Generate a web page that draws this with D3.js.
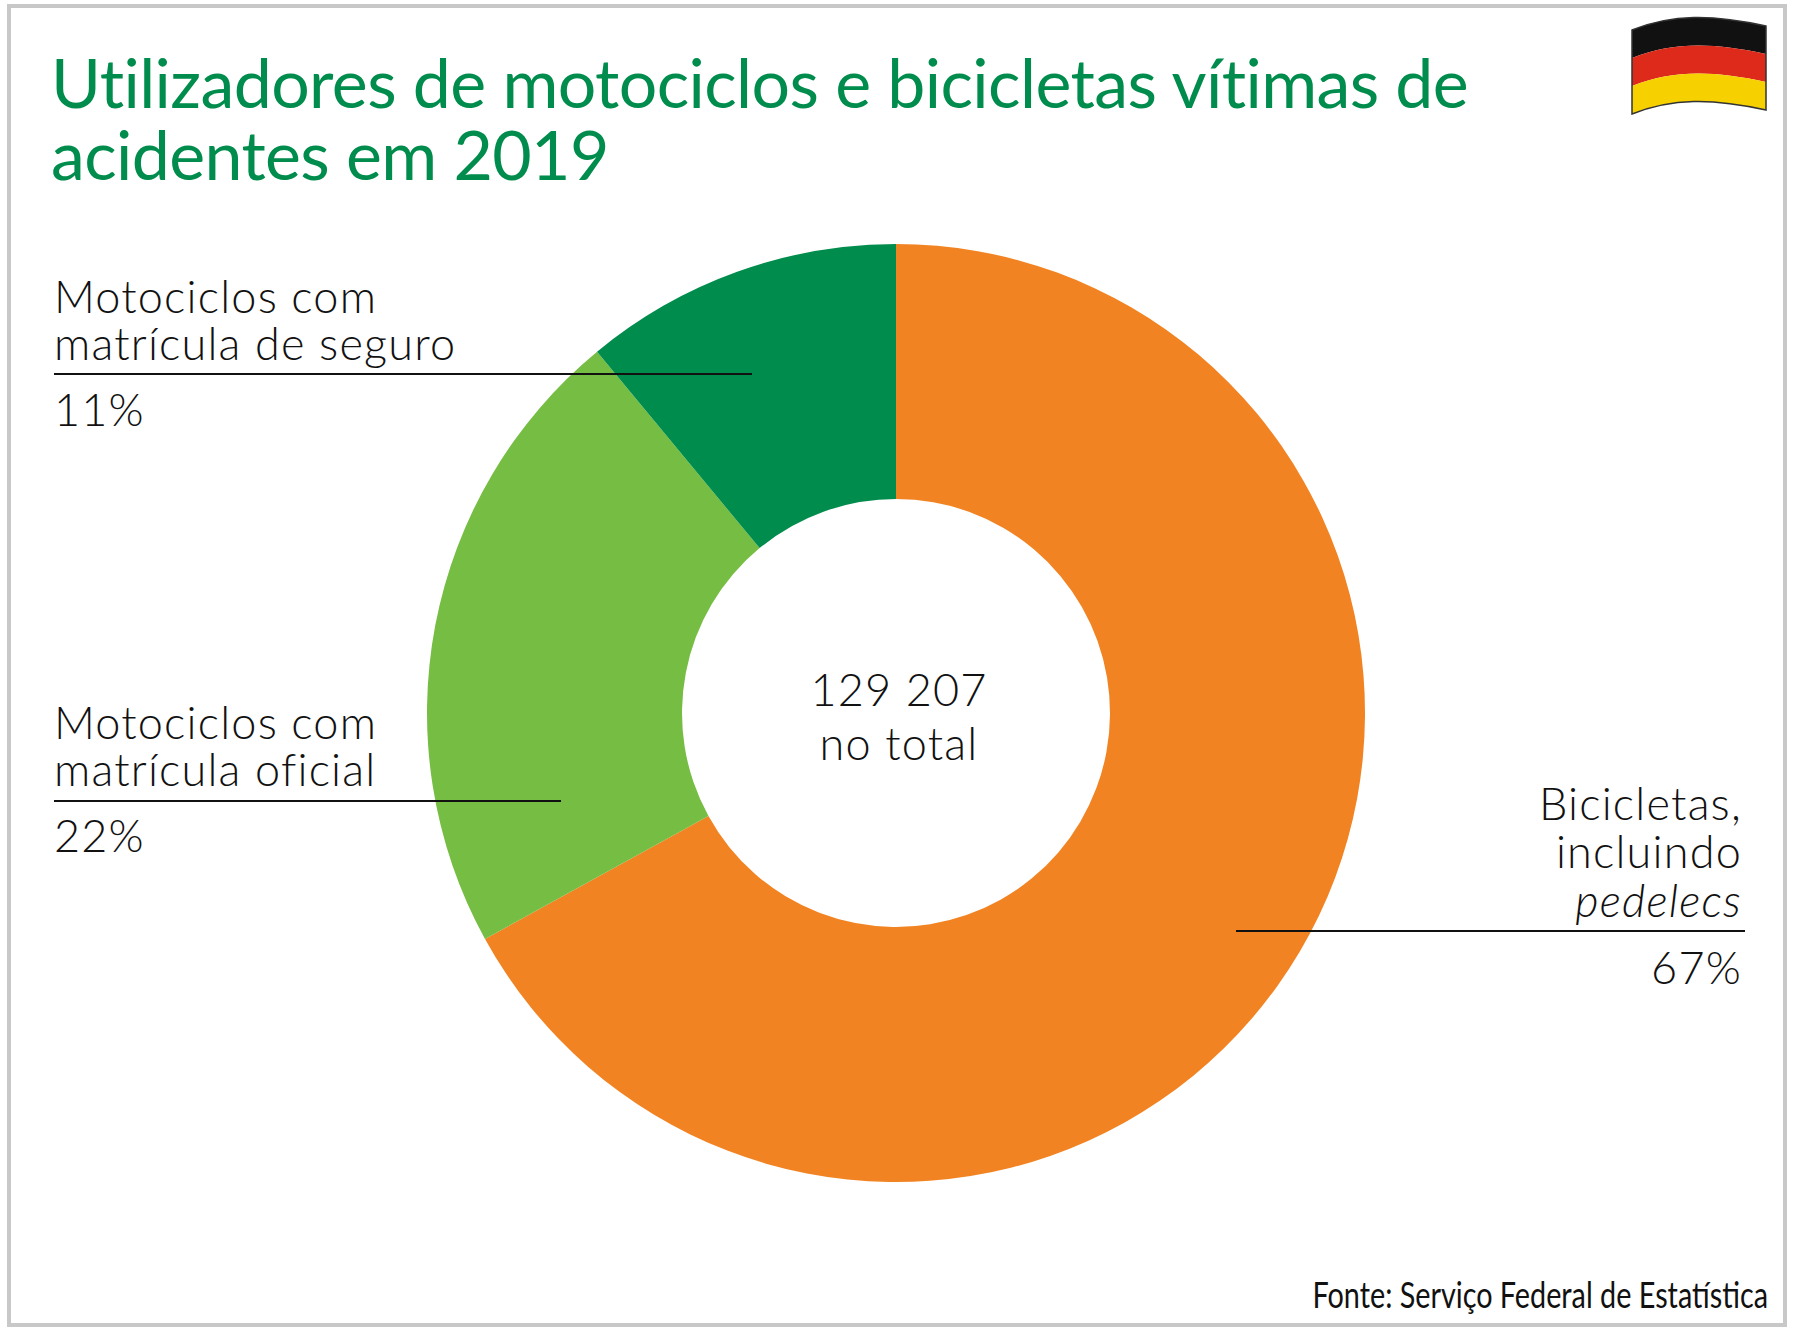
<!DOCTYPE html>
<html><head><meta charset="utf-8">
<script src="https://cdn.jsdelivr.net/npm/d3@7"></script>
<style>body{margin:0;background:#fff}</style></head>
<body><svg id="c" width="1794" height="1332"></svg>
<script>
const categories=["Bicicletas","Motociclos com matrícula oficial","Motociclos com matrícula de seguro"];
const values=[67,22,11];
const colors=["#f28322","#76bd43","#008c4c"];
const svg=d3.select("#c");
const F="Lato, 'Noto Sans', sans-serif";
svg.append("rect").attr("x",9).attr("y",6).attr("width",1776).attr("height",1319).attr("fill","none").attr("stroke","#c8c8c8").attr("stroke-width",4);
const t=svg.append("text").attr("font-family",F).attr("font-size",68).attr("fill","#008c4c").attr("letter-spacing",-0.6);
t.append("tspan").attr("x",51).attr("y",108).text("Utilizadores de motociclos e bicicletas vítimas de");
t.append("tspan").attr("x",51).attr("y",180).text("acidentes em 2019");
const pie=d3.pie().sort(null)(values);
const arc=d3.arc().innerRadius(214).outerRadius(469);
svg.append("g").attr("transform","translate(896,713)").selectAll("path").data(pie).join("path").attr("d",arc).attr("fill",(d,i)=>colors[i]);
function txt(x,y,s,anchor,italic){svg.append("text").attr("x",x).attr("y",y).attr("font-family",F).attr("font-size",45).attr("font-weight",300).attr("letter-spacing",1.2).attr("fill","#111").attr("text-anchor",anchor||"start").attr("font-style",italic?"italic":"normal").text(s);}
function line(x1,x2,y){svg.append("line").attr("x1",x1).attr("x2",x2).attr("y1",y).attr("y2",y).attr("stroke","#111").attr("stroke-width",2);}
txt(54,313,"Motociclos com");txt(54,360,"matrícula de seguro");line(54,752,374);txt(54,426,values[2]+"%");
txt(54,739,"Motociclos com");txt(54,786,"matrícula oficial");line(54,561,801);txt(54,852,values[1]+"%");
txt(1742,820,"Bicicletas,","end");txt(1742,868,"incluindo","end");txt(1742,917,"pedelecs","end",true);line(1236,1745,931);txt(1742,984,values[0]+"%","end");
txt(899,706,"129 207","middle");txt(899,760,"no total","middle");
svg.append("text").attr("font-family",F).attr("font-size",36).attr("fill","#111").attr("text-anchor","end")
 .attr("transform","translate(1768,1308) scale(0.8,1)").text("Fonte: Serviço Federal de Estatística");
const fg=svg.append("g").attr("transform","translate(1632,22)");
const bands=["#111","#dd2a1b","#f7d000"];
const wave=(y0,y1)=>{const p=d3.path();p.moveTo(0,y0+8);p.bezierCurveTo(40,y0-8,80,y0-8,134,y0+4);p.lineTo(134,y1+4);p.bezierCurveTo(80,y1-8,40,y1-8,0,y1+8);p.closePath();return p.toString();};
bands.forEach((c,i)=>fg.append("path").attr("d",wave(i*28,(i+1)*28)).attr("fill",c));
fg.append("path").attr("d",wave(0,84)).attr("fill","none").attr("stroke","#333").attr("stroke-width",1.5);
</script></body></html>
